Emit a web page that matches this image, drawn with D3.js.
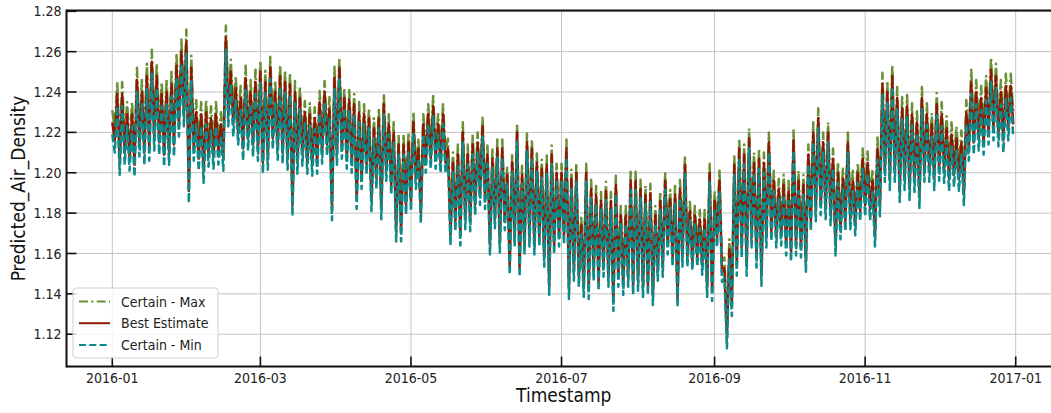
<!DOCTYPE html>
<html>
<head>
<meta charset="utf-8">
<script src="https://cdn.jsdelivr.net/npm/d3@7"></script>
<style>
  body { margin: 0; background: #fff; }
  svg { display: block; font-family: 'DejaVu Sans Condensed', 'DejaVu Sans', sans-serif; font-stretch: condensed; }
</style>
</head>
<body>
<div id="chart"></div>
<script>
// every 2 days: the day's high and the next day's low of the best estimate
const startDay = new Date(2016, 0, 1);
const bestHigh = [
  1.225,1.239,1.239,1.229,1.229,1.246,1.240,1.248,1.255,1.248,
  1.239,1.240,1.244,1.253,1.260,1.265,1.252,1.230,1.229,1.230,
  1.227,1.229,1.224,1.267,1.250,1.242,1.237,1.247,1.240,1.245,
  1.250,1.245,1.252,1.240,1.248,1.245,1.244,1.240,1.237,1.230,
  1.229,1.227,1.235,1.240,1.232,1.247,1.252,1.237,1.236,1.234,
  1.230,1.229,1.227,1.222,1.227,1.234,1.224,1.220,1.214,1.214,
  1.215,1.225,1.212,1.224,1.229,1.233,1.224,1.229,1.212,1.205,
  1.209,1.220,1.209,1.214,1.215,1.223,1.209,1.207,1.212,1.212,
  1.199,1.205,1.220,1.199,1.215,1.212,1.205,1.202,1.204,1.209,
  1.200,1.200,1.212,1.197,1.200,1.174,1.200,1.192,1.189,1.186,
  1.191,1.186,1.194,1.179,1.179,1.196,1.196,1.192,1.189,1.190,
  1.179,1.186,1.196,1.187,1.189,1.192,1.204,1.181,1.179,1.177,
  1.177,1.200,1.186,1.196,1.153,1.162,1.204,1.212,1.209,1.217,
  1.205,1.207,1.205,1.215,1.196,1.192,1.194,1.191,1.216,1.196,
  1.194,1.209,1.220,1.227,1.215,1.220,1.207,1.200,1.197,1.215,
  1.196,1.200,1.207,1.205,1.196,1.212,1.244,1.240,1.248,1.237,
  1.232,1.233,1.229,1.225,1.237,1.229,1.224,1.234,1.229,1.222,
  1.219,1.217,1.215,1.230,1.245,1.240,1.237,1.242,1.251,1.248,
  1.240,1.243,1.243
];
const bestLow = [
  1.216,1.205,1.210,1.207,1.204,1.214,1.210,1.212,1.217,1.215,
  1.209,1.210,1.214,1.224,1.229,1.191,1.212,1.207,1.201,1.209,
  1.208,1.210,1.207,1.229,1.224,1.220,1.212,1.217,1.214,1.212,
  1.205,1.207,1.217,1.212,1.210,1.207,1.184,1.205,1.209,1.205,
  1.204,1.205,1.210,1.214,1.182,1.209,1.212,1.207,1.205,1.187,
  1.197,1.204,1.186,1.197,1.182,1.201,1.194,1.171,1.171,1.184,
  1.186,1.197,1.180,1.205,1.207,1.207,1.205,1.205,1.169,1.176,
  1.169,1.177,1.176,1.184,1.189,1.187,1.164,1.177,1.165,1.176,
  1.154,1.168,1.153,1.164,1.168,1.164,1.168,1.158,1.144,1.164,
  1.168,1.169,1.142,1.151,1.148,1.143,1.142,1.151,1.146,1.153,
  1.148,1.136,1.148,1.144,1.148,1.144,1.146,1.143,1.144,1.139,
  1.151,1.153,1.164,1.158,1.138,1.158,1.158,1.156,1.158,1.154,
  1.143,1.141,1.168,1.151,1.118,1.134,1.154,1.163,1.154,1.168,
  1.158,1.149,1.168,1.171,1.168,1.169,1.164,1.161,1.164,1.163,
  1.156,1.176,1.181,1.184,1.182,1.179,1.164,1.172,1.176,1.177,
  1.174,1.181,1.184,1.182,1.169,1.184,1.201,1.197,1.201,1.191,
  1.197,1.192,1.196,1.188,1.201,1.201,1.197,1.202,1.201,1.197,
  1.199,1.197,1.190,1.212,1.215,1.217,1.215,1.220,1.222,1.219,
  1.216,1.222,1.224
];
// certainty band width per month (Jan..Dec)
const spreadUp   = [0.006,0.006,0.0055,0.005,0.005,0.0045,0.0045,0.0045,0.005,0.005,0.0055,0.006];
const spreadDown = [0.006,0.006,0.0055,0.005,0.005,0.0045,0.0045,0.0045,0.005,0.005,0.0055,0.006];

const yTicks = [1.12, 1.14, 1.16, 1.18, 1.20, 1.22, 1.24, 1.26, 1.28];
const xTicks = ['2016-01', '2016-03', '2016-05', '2016-07', '2016-09', '2016-11', '2017-01'];
const seriesNames = ['Certain - Max', 'Best Estimate', 'Certain - Min'];
const seriesColors = ['#6b8f35', '#8c1a02', '#0f8a8a'];
const seriesDash = ['13,3.3,2.1,3.3', null, '7.7,3.3'];

const width = 1051;
const height = 413;
const plotLeft = 66.5, plotRight = 1061, plotTop = 10.5, plotBottom = 366.5;

const svg = d3.select('#chart').append('svg')
  .attr('width', width)
  .attr('height', height);

const parseMonth = d3.timeParse('%Y-%m');
const x = d3.scaleTime()
  .domain([new Date(2016, 0, 1), new Date(2017, 0, 1)])
  .range([112.3, 1015.7]);
const y = d3.scaleLinear()
  .domain([1.104, 1.2804])
  .range([plotBottom, plotTop]);

//build the three series
const best = [];
bestHigh.forEach((hi, i) => {
  best.push({ date: d3.timeDay.offset(startDay, 2 * i), value: hi });
  best.push({ date: d3.timeDay.offset(startDay, 2 * i + 1), value: bestLow[i] });
});
const maxSeries = best.map(d => ({ date: d.date, value: d.value + spreadUp[d.date.getMonth()] }));
const minSeries = best.map(d => ({ date: d.date, value: d.value - spreadDown[d.date.getMonth()] }));
const allSeries = [maxSeries, best, minSeries];

const g = svg.append('g');

//grid
g.selectAll('.hgrid').data(yTicks).enter().append('line')
  .attr('x1', plotLeft).attr('x2', plotRight)
  .attr('y1', d => y(d)).attr('y2', d => y(d))
  .attr('stroke', '#c4c4c4').attr('stroke-width', 1);
g.selectAll('.vgrid').data(xTicks).enter().append('line')
  .attr('x1', d => x(parseMonth(d))).attr('x2', d => x(parseMonth(d)))
  .attr('y1', plotTop).attr('y2', plotBottom)
  .attr('stroke', '#c4c4c4').attr('stroke-width', 1);

//lines
const line = d3.line()
  .x(d => x(d.date))
  .y(d => y(d.value));
allSeries.forEach((s, i) => {
  const path = g.append('path')
    .datum(s)
    .attr('fill', 'none')
    .attr('stroke', seriesColors[i])
    .attr('stroke-width', 2.5)
    .attr('stroke-linejoin', 'round')
    .attr('d', line);
  if (seriesDash[i]) path.attr('stroke-dasharray', seriesDash[i]);
});

//spines
g.append('line').attr('x1', plotLeft).attr('x2', plotRight).attr('y1', plotTop).attr('y2', plotTop)
  .attr('stroke', '#111').attr('stroke-width', 2);
g.append('line').attr('x1', plotLeft).attr('x2', plotRight).attr('y1', plotBottom).attr('y2', plotBottom)
  .attr('stroke', '#111').attr('stroke-width', 2);
g.append('line').attr('x1', plotLeft).attr('x2', plotLeft).attr('y1', plotTop - 1).attr('y2', plotBottom + 1)
  .attr('stroke', '#111').attr('stroke-width', 2);

//ticks pointing inwards
g.selectAll('.ytick').data(yTicks).enter().append('line')
  .attr('x1', plotLeft).attr('x2', plotLeft + 10)
  .attr('y1', d => y(d)).attr('y2', d => y(d))
  .attr('stroke', '#111').attr('stroke-width', 1.6);
g.selectAll('.ylab').data(yTicks).enter().append('text')
  .attr('x', plotLeft - 5)
  .attr('y', d => y(d))
  .attr('dy', '0.36em')
  .style('text-anchor', 'end')
  .style('font-size', '14px')
  .style('fill', '#222')
  .text(d => d3.format('.2f')(d));

g.selectAll('.xtick').data(xTicks).enter().append('line')
  .attr('x1', d => x(parseMonth(d))).attr('x2', d => x(parseMonth(d)))
  .attr('y1', plotBottom).attr('y2', plotBottom - 10)
  .attr('stroke', '#111').attr('stroke-width', 1.6);
g.selectAll('.xlab').data(xTicks).enter().append('text')
  .attr('x', d => x(parseMonth(d)))
  .attr('y', 382.5)
  .style('text-anchor', 'middle')
  .style('font-size', '14px')
  .style('fill', '#222')
  .text(d => d);

//axis titles
g.append('text')
  .attr('transform', 'translate(' + ((plotLeft + plotRight) / 2) + ',401.5)')
  .style('text-anchor', 'middle')
  .style('font-size', '19px')
  .style('fill', '#111')
  .text('Timestamp');
g.append('text')
  .attr('transform', 'translate(25,' + ((plotTop + plotBottom) / 2) + ') rotate(-90)')
  .style('text-anchor', 'middle')
  .style('font-size', '19px')
  .style('fill', '#111')
  .text('Predicted_Air_Density');

//legend
const legend = g.append('g').attr('transform', 'translate(73,288)');
legend.append('rect')
  .attr('width', 145).attr('height', 70)
  .attr('rx', 3)
  .attr('fill', '#fff').attr('fill-opacity', 0.8)
  .attr('stroke', '#d0d0d0');
seriesNames.forEach((name, i) => {
  const ly = 13.5 + i * 21.7;
  const l = legend.append('line')
    .attr('x1', 6).attr('x2', 37)
    .attr('y1', ly).attr('y2', ly)
    .attr('stroke', seriesColors[i])
    .attr('stroke-width', 2);
  if (seriesDash[i]) l.attr('stroke-dasharray', i === 0 ? '9,3.3,2.1,3.3' : '7,3.3');
  legend.append('text')
    .attr('x', 48).attr('y', ly)
    .attr('dy', '0.36em')
    .style('font-size', '14px')
    .style('fill', '#222')
    .text(name);
});
</script>
</body>
</html>
